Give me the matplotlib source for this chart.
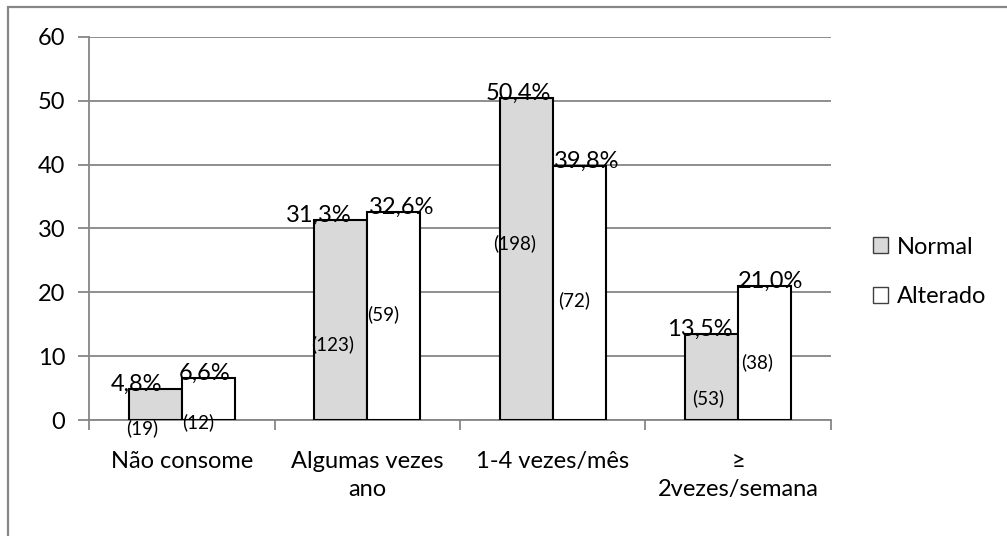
import numpy as np
import matplotlib.pyplot as plt
from matplotlib.patches import Rectangle

plt.rcParams['font.family'] = ['Lato', 'DejaVu Sans']

categories = ['Não consome', 'Algumas vezes\nano', '1-4 vezes/mês', '≥\n2vezes/semana']
normal = [4.8, 31.3, 50.4, 13.5]
alterado = [6.6, 32.6, 39.8, 21.0]
normal_n = [19, 123, 198, 53]
alterado_n = [12, 59, 72, 38]

# hand-placed label nudges (category units) and count label heights
pct_dx_normal = [-0.10, -0.12, -0.04, -0.065]
pct_dx_alterado = [-0.02, 0.04, 0.04, 0.03]
cnt_dx_normal = [-0.07, -0.045, -0.065, -0.02]
cnt_dx_alterado = [-0.055, -0.055, -0.03, -0.04]
cnt_y_normal = [-1.25, 11.8, 27.7, 3.45]
cnt_y_alterado = [-0.3, 16.5, 18.8, 9.1]

grid_col = '#868686'
x = np.arange(len(categories))
w = 0.286

fig = plt.figure(figsize=(10.07, 5.36), dpi=100)
ax = fig.add_axes([0.0884, 0.2164, 0.7368, 0.7146])

ax.bar(x - w / 2, normal, w, color='#D9D9D9', edgecolor='black', linewidth=1.5, label='Normal', zorder=3)
ax.bar(x + w / 2, alterado, w, color='white', edgecolor='black', linewidth=1.5, label='Alterado', zorder=3)

for i in range(len(categories)):
    ax.text(x[i] - w / 2 + pct_dx_normal[i], normal[i] - 0.3, f'{normal[i]:.1f}%'.replace('.', ','),
            ha='center', va='baseline', fontsize=17, zorder=4)
    ax.text(x[i] + w / 2 + pct_dx_alterado[i], alterado[i] - 0.3, f'{alterado[i]:.1f}%'.replace('.', ','),
            ha='center', va='baseline', fontsize=17, zorder=4)
    ax.text(x[i] - w / 2 + cnt_dx_normal[i], cnt_y_normal[i], f'({normal_n[i]})',
            ha='center', va='center', fontsize=13.5, zorder=4, clip_on=False)
    ax.text(x[i] + w / 2 + cnt_dx_alterado[i], cnt_y_alterado[i], f'({alterado_n[i]})',
            ha='center', va='center', fontsize=13.5, zorder=4, clip_on=False)

ax.set_xlim(-0.5, len(categories) - 0.5)
ax.set_ylim(0, 60)
ax.set_yticks(range(0, 61, 10))
ax.yaxis.grid(True, color=grid_col, linewidth=1.3)
ax.set_axisbelow(True)

# ticks on category boundaries, labels at centres
ax.set_xticks(np.arange(-0.5, len(categories), 1.0))
ax.set_xticklabels([])
ax.set_xticks(x, minor=True)
ax.set_xticklabels(categories, minor=True, fontsize=17, linespacing=1.45)
ax.tick_params(axis='x', which='major', length=7, width=1.3, color=grid_col, direction='out')
ax.tick_params(axis='x', which='minor', length=0, pad=22)
ax.tick_params(axis='y', length=8, width=1.3, color=grid_col, labelsize=17, pad=9)

for s in ['top', 'right']:
    ax.spines[s].set_visible(False)
for s in ['left', 'bottom']:
    ax.spines[s].set_color(grid_col)
    ax.spines[s].set_linewidth(1.3)

leg = ax.legend(loc='center left', bbox_to_anchor=(0.867, 0.493), bbox_transform=fig.transFigure,
                frameon=False, fontsize=17, handlelength=0.65, handleheight=0.65,
                handletextpad=0.35, labelspacing=1.2, borderpad=0, borderaxespad=0)
for h in leg.legend_handles:
    h.set_edgecolor('#404040')
    h.set_linewidth(1.0)

# chart frame
fig.patches.append(Rectangle((8 / 1007, -0.05), 1.1, 1 - 7 / 536 + 0.05, transform=fig.transFigure,
                             fill=False, edgecolor=grid_col, linewidth=1.6))

fig.savefig('out.png', dpi=100)
